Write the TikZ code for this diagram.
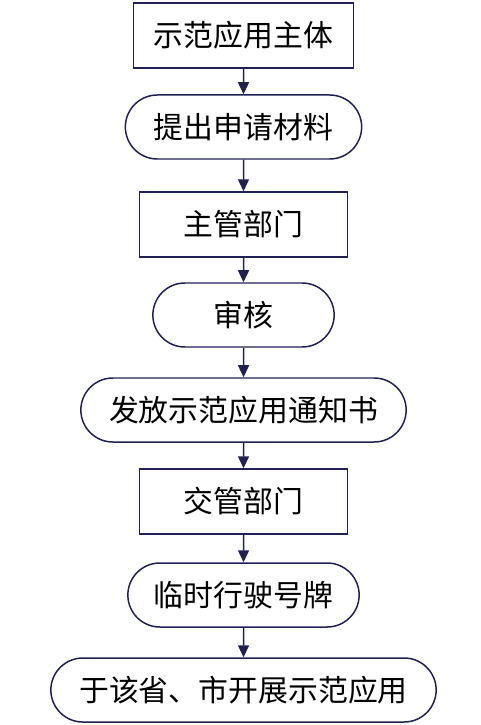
\documentclass[tikz,border=0pt]{standalone}
\usepackage{fontspec}
\setmainfont{Noto Sans CJK SC}
\usepackage{tikz}
\usetikzlibrary{shapes.misc, arrows.meta}

\definecolor{linenavy}{RGB}{32,32,84}
\tikzset{
  boxstep/.style = {draw = linenavy, line width = 0.85pt, rectangle, minimum height = 1.30cm, font = \fontsize{17}{20}\selectfont},
  roundstep/.style = {draw = linenavy, line width = 0.85pt, rounded rectangle, minimum height = 1.28cm, font = \fontsize{17}{20}\selectfont},
  flowarrow/.style = {draw = linenavy, line width = 0.85pt, -{Triangle[length=2.4mm, width=2.2mm]}}
}

\begin{document}
\begin{tikzpicture}

\useasboundingbox (0,0) rectangle (9.6,-14.5);

\node (subject) at (4.87,-0.71) [boxstep, minimum width = 4.40cm] {示范应用主体};
\node (apply) at (4.87,-2.54) [roundstep, minimum width = 4.96cm] {提出申请材料};
\node (dept) at (4.87,-4.49) [boxstep, minimum width = 4.16cm] {主管部门};
\node (review) at (4.87,-6.30) [roundstep, minimum width = 3.86cm] {审核};
\node (notice) at (4.87,-8.20) [roundstep, minimum width = 6.74cm] {发放示范应用通知书};
\node (traffic) at (4.87,-10.03) [boxstep, minimum width = 4.16cm] {交管部门};
\node (plate) at (4.87,-11.90) [roundstep, minimum width = 4.86cm] {临时行驶号牌};
\node (city) at (4.87,-13.80) [roundstep, minimum width = 7.94cm] {于该省、市开展示范应用};

\draw[flowarrow] (subject) -- (apply);
\draw[flowarrow] (apply) -- (dept);
\draw[flowarrow] (dept) -- (review);
\draw[flowarrow] (review) -- (notice);
\draw[flowarrow] (notice) -- (traffic);
\draw[flowarrow] (traffic) -- (plate);
\draw[flowarrow] (plate) -- (city);
\end{tikzpicture}
\end{document}
